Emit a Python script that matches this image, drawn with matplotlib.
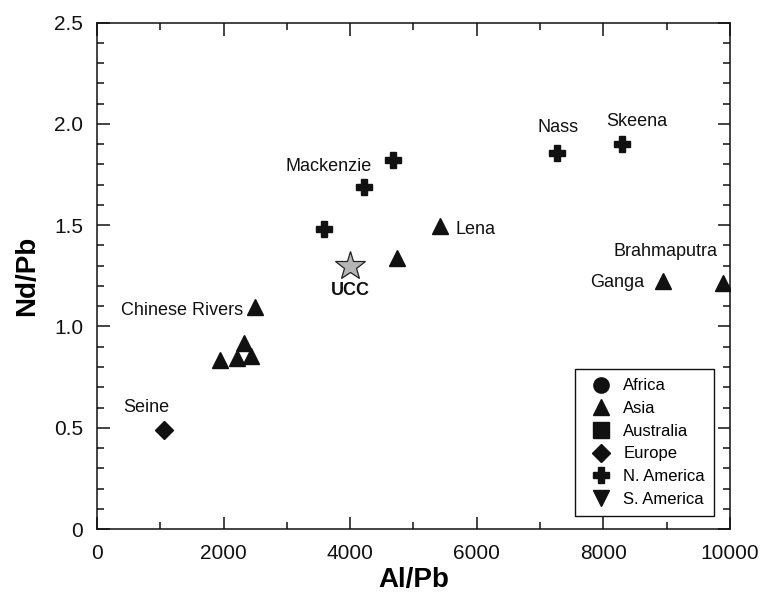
import numpy as np
import matplotlib.pyplot as plt
from matplotlib.ticker import MultipleLocator

plt.rcParams['font.family'] = ['Liberation Sans', 'DejaVu Sans']

# Al/Pb and Nd/Pb of river suspended sediments, grouped by continent
africa_al, africa_nd = [], []
asia_al = [1940, 2210, 2320, 2430, 2500, 4740, 5420, 8940, 9890]
asia_nd = [0.835, 0.845, 0.92, 0.855, 1.095, 1.34, 1.495, 1.225, 1.215]
australia_al, australia_nd = [], []
europe_al = [1060]
europe_nd = [0.49]
namerica_al = [3590, 4220, 4680, 7275, 8295]
namerica_nd = [1.48, 1.69, 1.82, 1.855, 1.90]
samerica_al, samerica_nd = [], []

ucc_al, ucc_nd = 4000, 1.30

# river names and where they are written
labels = ['Seine', 'Chinese Rivers', 'Mackenzie', 'Lena', 'Nass', 'Skeena', 'Brahmaputra', 'Ganga']
label_x = [775, 2305, 4345, 5670, 7285, 8525, 9810, 8640]
label_y = [0.60, 1.08, 1.79, 1.48, 1.985, 2.01, 1.37, 1.215]
label_ha = ['center', 'right', 'right', 'left', 'center', 'center', 'right', 'right']

fig = plt.figure(figsize=(7.63, 5.97), dpi=100)
ax = fig.add_axes([0.1271, 0.1139, 0.8296, 0.848])

ms = 11
ax.plot(africa_al, africa_nd, 'o', color='#111111', ms=ms, ls='none', label='Africa')
ax.plot(asia_al, asia_nd, '^', color='#111111', ms=ms, ls='none', label='Asia')
ax.plot(australia_al, australia_nd, 's', color='#111111', ms=ms, ls='none', label='Australia')
ax.plot(europe_al, europe_nd, 'D', color='#111111', ms=9, ls='none', label='Europe')
ax.plot(namerica_al, namerica_nd, 'P', color='#111111', ms=ms, ls='none', label='N. America')
ax.plot(samerica_al, samerica_nd, 'v', color='#111111', ms=ms, ls='none', label='S. America')

ax.plot([ucc_al], [ucc_nd], '*', ms=22, mfc='#b5b5b5', mec='#222222', mew=0.9, ls='none')
ax.text(ucc_al, 1.18, 'UCC', fontsize=13, fontweight='bold', ha='center', va='center', color='#111111')

for name, x, y, ha in zip(labels, label_x, label_y, label_ha):
    ax.text(x, y, name, fontsize=13, ha=ha, va='center', color='#111111')

ax.set_xlim(0, 10000)
ax.set_ylim(0, 2.5)
ax.xaxis.set_major_locator(MultipleLocator(2000))
ax.xaxis.set_minor_locator(MultipleLocator(1000))
ax.yaxis.set_major_locator(MultipleLocator(0.5))
ax.yaxis.set_minor_locator(MultipleLocator(0.1))
ax.set_yticks([0, 0.5, 1.0, 1.5, 2.0, 2.5])
ax.set_yticklabels(['0', '0.5', '1.0', '1.5', '2.0', '2.5'])
ax.tick_params(which='both', direction='in', top=True, right=True, labelsize=15, colors='#111111', width=1.1)
ax.tick_params(which='major', length=9)
ax.tick_params(which='minor', length=5)
ax.tick_params(axis='x', which='major', pad=11)
ax.tick_params(axis='y', which='major', pad=10)
for sp in ax.spines.values():
    sp.set_linewidth(1.1)
    sp.set_color('#111111')

ax.set_xlabel('Al/Pb', fontsize=20, fontweight='bold', labelpad=3)
ax.set_ylabel('Nd/Pb', fontsize=20, fontweight='bold', labelpad=10)

leg = ax.legend(loc='lower right', bbox_to_anchor=(0.975, 0.026), borderaxespad=0,
                fontsize=12, fancybox=False, edgecolor='#111111', framealpha=1,
                handletextpad=0.35, labelspacing=0.46, borderpad=0.55, handlelength=2.0)
leg.get_frame().set_linewidth(1.0)

fig.savefig('out.png', dpi=100)
